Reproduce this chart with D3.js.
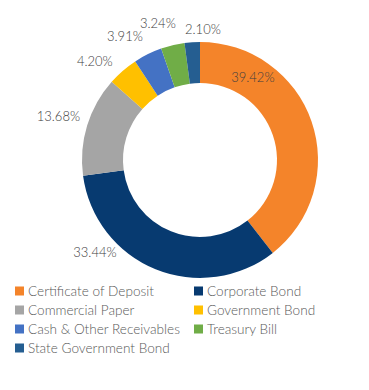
<!DOCTYPE html>
<html><head><meta charset="utf-8">
<script src="https://cdn.jsdelivr.net/npm/d3@7/dist/d3.min.js"></script>
<style>
html,body{margin:0;padding:0;background:#fff;}
svg{display:block;font-family:Lato, "Open Sans", sans-serif;}
</style></head>
<body>
<svg id="chart" width="369" height="390"></svg>
<script>
const categories = ["Certificate of Deposit","Corporate Bond","Commercial Paper","Government Bond","Cash & Other Receivables","Treasury Bill","State Government Bond"];
const values = [39.42, 33.44, 13.68, 4.20, 3.91, 3.24, 2.10];
const labels = ["39.42%","33.44%","13.68%","4.20%","3.91%","3.24%","2.10%"];
const colors = ["#F4842A","#073A70","#A5A5A5","#FFC000","#4472C4","#70AD47","#255E91"];

const svg = d3.select("#chart");
const cx = 200, cy = 160, rOuter = 118, rInner = 77;
const g = svg.append("g").attr("transform", `translate(${cx},${cy})`);

const pie = d3.pie().sort(null).value(d => d.v);
const data = categories.map((c,i)=>({c, v: values[i], l: labels[i], col: colors[i]}));
const arcs = pie(data);
const arc = d3.arc().innerRadius(rInner).outerRadius(rOuter);

g.selectAll("path").data(arcs).enter().append("path")
  .attr("d", arc).attr("fill", d => d.data.col);

// label placement (Excel-like best fit): angle offset within slice (fraction) and radius
const labelPlace = [
  {f: 0.23, r: 98},
  {f: 0.72, r: 140},
  {f: 0.50, r: 148},
  {f: 0.10, r: 144},
  {f: 0.15, r: 145},
  {f: 0.18, r: 143},
  {f: 1.17, r: 131}
];
g.selectAll("text.lbl").data(arcs).enter().append("text")
  .attr("class","lbl")
  .attr("transform", (d,i) => {
    const p = labelPlace[i];
    const a = d.startAngle + (d.endAngle - d.startAngle) * p.f;
    return `translate(${Math.sin(a)*p.r},${-Math.cos(a)*p.r})`;
  })
  .attr("text-anchor","middle").attr("dy","0.35em")
  .attr("font-size", 13).attr("font-weight", 300).attr("fill", "#404040")
  .text(d => d.data.l);

// legend
const leg = svg.append("g");
const colX = [15, 194], rowY0 = 291, rowH = 19;
data.forEach((d,i) => {
  const x = colX[i % 2], y = rowY0 + Math.floor(i/2) * rowH;
  leg.append("rect").attr("x", x).attr("y", y - 4.5).attr("width", 9).attr("height", 9).attr("fill", d.col);
  leg.append("text").attr("x", x + 13).attr("y", y).attr("dy","0.35em")
    .attr("font-size", 13.6).attr("font-weight", 300).attr("fill", "#595959").text(d.c);
});
</script>
</body></html>
